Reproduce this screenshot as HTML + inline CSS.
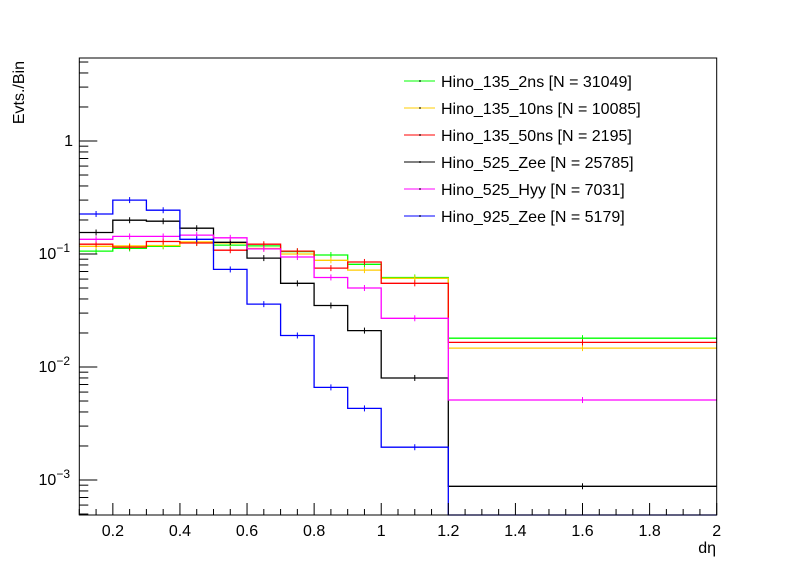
<!DOCTYPE html>
<html><head><meta charset="utf-8"><style>
body{margin:0;background:#fff;}
svg text{font-family:"Liberation Sans",sans-serif;}
</style></head><body>
<svg id="chart" width="796" height="572" xmlns="http://www.w3.org/2000/svg">
<rect width="796" height="572" fill="#fff"/>
<g id="marks"></g>
<g id="axes"></g>
<g id="legend"></g>
</svg>
<script>
const binEdges = [0.1,0.2,0.3,0.4,0.5,0.6,0.7,0.8,0.9,1.0,1.2,2.0];
const seriesNames = ["Hino_135_2ns [N = 31049]","Hino_135_10ns [N = 10085]","Hino_135_50ns [N = 2195]","Hino_525_Zee [N = 25785]","Hino_525_Hyy [N = 7031]","Hino_925_Zee [N = 5179]"];
const seriesColors = ["#00ff00","#ffcc00","#ff0000","#000000","#ff00ff","#0000ff"];
const vals2ns  = [0.106,0.112,0.117,0.126,0.120,0.118,0.105,0.098,0.081,0.062,0.018];
const vals10ns = [0.117,0.118,0.119,0.128,0.125,0.112,0.100,0.088,0.072,0.061,0.0147];
const vals50ns = [0.122,0.115,0.129,0.125,0.108,0.122,0.106,0.075,0.085,0.055,0.0165];
const vals525Zee = [0.155,0.199,0.195,0.169,0.127,0.092,0.055,0.035,0.021,0.008,0.00088];
const vals525Hyy = [0.135,0.143,0.143,0.147,0.139,0.111,0.094,0.062,0.050,0.027,0.0051];
const vals925Zee = [0.226,0.30,0.244,0.135,0.073,0.036,0.019,0.0066,0.0043,0.00195,0];
const allSeries = [vals2ns,vals10ns,vals50ns,vals525Zee,vals525Hyy,vals925Zee];
const xTickLabels = [0.2,0.4,0.6,0.8,1,1.2,1.4,1.6,1.8,2];
const yDecades = [-3,-2,-1,0];

const L=79.3,R=716.7,T=58,B=515;
const xMin=0.1,xMax=2;
const y1=141,decPx=113;
function X(v){return L+(v-xMin)/(xMax-xMin)*(R-L);}
function Y(v){if(v<=0)return B;return Math.min(B,Math.max(T,y1-decPx*Math.log10(v)));}
const NS="http://www.w3.org/2000/svg";
function mk(tag,attrs,parent){const e=document.createElementNS(NS,tag);for(const k in attrs)e.setAttribute(k,attrs[k]);parent.appendChild(e);return e;}
const marks=document.getElementById('marks'),axes=document.getElementById('axes'),legend=document.getElementById('legend');

allSeries.forEach((vals,si)=>{
  let d="";
  vals.forEach((v,i)=>{
    const x0=X(binEdges[i]),x1=X(binEdges[i+1]),y=Y(v);
    d+=(i===0?"M":"L")+x0.toFixed(1)+","+y.toFixed(1)+"L"+x1.toFixed(1)+","+y.toFixed(1);
  });
  const p=mk('path',{d:d,fill:"none",stroke:seriesColors[si],"stroke-width":1.3},marks);
  
  
  vals.forEach((v,i)=>{
    if(v<=0)return;
    const xc=X((binEdges[i]+binEdges[i+1])/2),y=Y(v);
    const e=mk('line',{x1:xc,x2:xc,y1:y-3,y2:y+3,stroke:seriesColors[si],"stroke-width":1},marks);
    
    
  });
});

const fr=mk('rect',{x:L,y:T,width:R-L,height:B-T,fill:"none",stroke:"#000","stroke-width":1},axes);


for(let k=0;k<=38;k++){
  const v=0.1+k*0.05;const x=X(v);
  const major=Math.abs((v*10)%2)<0.01||Math.abs((v*10)%2-2)<0.01;
  mk('line',{x1:x,x2:x,y1:B,y2:B-(major?12:6),stroke:"#000","stroke-width":1},axes);
}
xTickLabels.forEach(v=>{
  const t=mk('text',{x:X(v),y:B+21,"font-size":16,"text-anchor":"middle"},axes);
  t.textContent=String(v);
  
  
});
for(let dcd=-4;dcd<=0;dcd++){
  for(let m=1;m<=9;m++){
    const v=m*Math.pow(10,dcd);const y=y1-decPx*Math.log10(v);
    if(y<T||y>B)continue;
    mk('line',{x1:L,x2:L+(m===1?18:9),y1:y,y2:y,stroke:"#000","stroke-width":1},axes);
  }
}
yDecades.forEach(dcd=>{
  const y=y1-decPx*dcd;
  const t=mk('text',{x:dcd===0?73:70,y:y+5,"font-size":16,"text-anchor":"end"},axes);
  
  
  if(dcd===0){t.textContent="1";}
  else{
    t.textContent="10";
    const s=mk('tspan',{dy:-7,"font-size":12},t);s.textContent="\u2212"+(-dcd);
  }
});
const yt=mk('text',{x:0,y:0,"font-size":16,"text-anchor":"end",transform:"translate(24,61) rotate(-90)"},axes);
yt.textContent="Evts./Bin";


const xt=mk('text',{x:716,y:553,"font-size":16,"text-anchor":"end"},axes);
xt.textContent="dη";



seriesNames.forEach((n,i)=>{
  const y=81+i*27;
  const g=mk('g',{},legend);
  
  
  mk('line',{x1:404,x2:435,y1:y,y2:y,stroke:seriesColors[i],"stroke-width":1},g);
  mk('line',{x1:420,x2:420,y1:y-1,y2:y+1,stroke:"#000","stroke-width":1},g);
  const t=mk('text',{x:441,y:y+6,"font-size":16},g);
  t.textContent=n;
});
</script>
</body></html>
